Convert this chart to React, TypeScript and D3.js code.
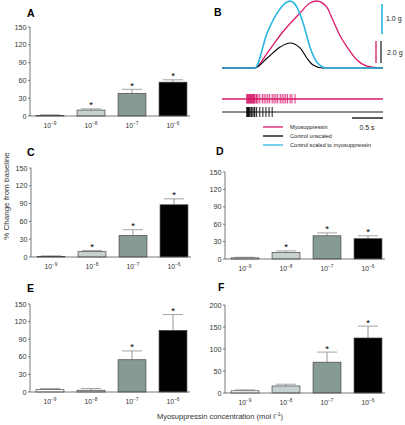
import React from "react";
import * as d3 from "d3";

// ---------- Data ----------
const exponents = ["−9", "−8", "−7", "−6"];
const barColors = ["#ffffff", "#c6d1d1", "#869a96", "#000000"];

const meanA = [1, 10, 38, 57];
const topA = [2, 12, 45, 61];
const sigA = [false, true, true, true];

const meanC = [1, 9, 36, 88];
const topC = [2, 11, 46, 98];
const sigC = [false, true, true, true];

const meanD = [2, 11, 40, 35];
const topD = [3, 14, 45, 40];
const sigD = [false, true, true, true];

const meanE = [4, 3, 55, 105];
const topE = [6, 6, 70, 132];
const sigE = [false, false, true, true];

const meanF = [5, 16, 70, 125];
const topF = [7, 20, 93, 152];
const sigF = [false, false, true, true];

const ticks150 = [0, 30, 60, 90, 120, 150];
const ticks200 = [0, 50, 100, 150, 200];

// Panel B: force traces (time in s, force in g)
const pinkT = [0, 0.53, 0.73, 0.98, 1.26, 1.42, 1.53, 1.69, 1.79, 1.9, 2.02, 2.18, 2.34, 2.6];
const pinkG = [0, 0, 1.36, 3.27, 5.0, 5.91, 6.09, 5.55, 4.36, 3.0, 1.91, 0.73, 0.18, 0];
const blackT = [0, 0.53, 0.73, 0.94, 1.1, 1.26, 1.37, 1.47, 1.63, 2.6];
const blackG = [0, 0, 0.91, 1.91, 2.27, 1.82, 0.91, 0.27, 0, 0];
const cyanT = [0, 0.53, 0.73, 0.89, 1.05, 1.1, 1.21, 1.31, 1.42, 1.53, 1.69, 2.6];
const cyanG = [0, 0, 1.17, 1.83, 2.2, 2.23, 2.03, 1.5, 0.7, 0.2, 0, 0];

// spike times (s)
const pinkSpikes = [0.4, 0.41, 0.42, 0.43, 0.44, 0.45, 0.46, 0.47, 0.48, 0.49, 0.5, 0.51, 0.52, 0.53, 0.55, 0.56, 0.58, 0.61, 0.65, 0.68, 0.71, 0.74, 0.77, 0.81, 0.84, 0.87, 0.9, 0.94, 0.97, 1.0, 1.03, 1.06, 1.1, 1.13, 1.18];
const blackSpikes = [0.4, 0.41, 0.42, 0.43, 0.44, 0.45, 0.47, 0.48, 0.5, 0.52, 0.53, 0.56, 0.61, 0.66, 0.71, 0.76, 0.81];

const legendLabels = ["Myosuppressin", "Control unscaled", "Control scaled to myosuppressin"];
const PINK = "#d71a6c";
const CYAN = "#2bb6e4";
const legendColors = [PINK, "#000000", CYAN];

const FONT = "Liberation Sans, Arial, Helvetica, sans-serif";

type PanelSpec = {
  id: string;
  axisX: number;
  y0: number;
  yTop: number;
  max: number;
  ticks: number[];
  mean: number[];
  top: number[];
  sig: boolean[];
  lx: number;
  ly: number;
};

const panels: PanelSpec[] = [
  { id: "A", axisX: 30, y0: 116, yTop: 27, max: 150, ticks: ticks150, mean: meanA, top: topA, sig: sigA, lx: 27, ly: 17 },
  { id: "C", axisX: 31, y0: 257, yTop: 168, max: 150, ticks: ticks150, mean: meanC, top: topC, sig: sigC, lx: 27, ly: 156 },
  { id: "D", axisX: 225, y0: 259, yTop: 172, max: 150, ticks: ticks150, mean: meanD, top: topD, sig: sigD, lx: 216, ly: 155 },
  { id: "E", axisX: 30, y0: 392, yTop: 304, max: 150, ticks: ticks150, mean: meanE, top: topE, sig: sigE, lx: 27, ly: 292 },
  { id: "F", axisX: 225, y0: 393, yTop: 305, max: 200, ticks: ticks200, mean: meanF, top: topF, sig: sigF, lx: 218, ly: 291 },
];

function BarPanel({ p }: { p: PanelSpec }) {
  const y = d3.scaleLinear().domain([0, p.max]).range([p.y0, p.yTop]);
  const x = d3
    .scaleBand<string>()
    .domain(exponents)
    .range([p.axisX - 0.5, p.axisX + 163.5])
    .paddingInner(0.32)
    .paddingOuter(0.16);
  const bw = x.bandwidth();
  return (
    <g>
      <text x={p.lx} y={p.ly} fontFamily={FONT} fontWeight="bold" fontSize={10.5} fill="#000">
        {p.id}
      </text>
      <line x1={p.axisX} x2={p.axisX} y1={y(p.max)} y2={p.y0} stroke="#555" strokeWidth={0.8} />
      {p.ticks.map((t) => (
        <g key={t}>
          <line x1={p.axisX - 2} x2={p.axisX} y1={y(t)} y2={y(t)} stroke="#555" strokeWidth={0.8} />
          <text
            x={p.axisX - 3.5}
            y={y(t) + 2.6}
            textAnchor="end"
            fontFamily={FONT}
            fontSize={7.2}
            fill="#333"
          >
            {t}
          </text>
        </g>
      ))}
      {exponents.map((e, i) => {
        const bx = x(e)!;
        const cx = bx + bw / 2;
        const yt = y(p.top[i]);
        const cap = bw * 0.36;
        return (
          <g key={e}>
            <line x1={cx} x2={cx} y1={y(p.mean[i])} y2={yt} stroke="#8a8a8a" strokeWidth={0.9} />
            <line x1={cx - cap} x2={cx + cap} y1={yt} y2={yt} stroke="#9a9a9a" strokeWidth={0.9} />
            <rect
              x={bx}
              y={y(p.mean[i])}
              width={bw}
              height={p.y0 - y(p.mean[i])}
              fill={barColors[i]}
              stroke="#444"
              strokeWidth={0.7}
            />
            {p.sig[i] && (
              <text x={cx} y={yt - 0.5} textAnchor="middle" fontFamily={FONT} fontSize={9.5} fill="#000">
                *
              </text>
            )}
            <text x={cx} y={p.y0 + 11.5} textAnchor="middle" fontFamily={FONT} fontSize={6.8} fill="#333">
              10
              <tspan fontSize={4.8} dy={-2.8}>
                {e}
              </tspan>
            </text>
          </g>
        );
      })}
      <line x1={p.axisX} x2={p.axisX + 160} y1={p.y0} y2={p.y0} stroke="#555" strokeWidth={0.8} />
    </g>
  );
}

function PanelB() {
  const tx = d3.scaleLinear().domain([0, 2.6]).range([222, 383]);
  const yF = d3.scaleLinear().domain([0, 2]).range([68, 46]);
  const yC = d3.scaleLinear().domain([0, 1]).range([68, 38]);
  const line = (T: number[], G: number[], ys: d3.ScaleLinear<number, number>) =>
    d3
      .line<number>()
      .x((_, i) => tx(T[i]))
      .y((g) => ys(g))
      .curve(d3.curveMonotoneX)(G) || "";
  const pinkY = 99;
  const blackY = 112;
  return (
    <g>
      <text x={214} y={16} fontFamily={FONT} fontWeight="bold" fontSize={10.5} fill="#000">
        B
      </text>
      <path d={line(pinkT, pinkG, yF)} fill="none" stroke={PINK} strokeWidth={1.3} />
      <path d={line(blackT, blackG, yF)} fill="none" stroke="#000" strokeWidth={1.1} />
      <path d={line(cyanT, cyanG, yC)} fill="none" stroke={CYAN} strokeWidth={1.6} />
      <line x1={382} x2={382} y1={4} y2={4 + (yC(0) - yC(1))} stroke={CYAN} strokeWidth={1.6} />
      <text x={386} y={20.5} fontFamily={FONT} fontSize={7} fill="#222">1.0 g</text>
      <line x1={376} x2={376} y1={41} y2={41 + (yF(0) - yF(2))} stroke={PINK} strokeWidth={1.3} />
      <line x1={381} x2={381} y1={41} y2={41 + (yF(0) - yF(2))} stroke="#000" strokeWidth={1.1} />
      <text x={387} y={54.5} fontFamily={FONT} fontSize={7} fill="#222">2.0 g</text>
      <line x1={tx(0)} x2={tx(2.6)} y1={pinkY} y2={pinkY} stroke={PINK} strokeWidth={1.3} />
      {pinkSpikes.map((s, i) => (
        <line key={"p" + i} x1={tx(s)} x2={tx(s)} y1={pinkY - 5} y2={pinkY + 4.5} stroke={PINK} strokeWidth={0.9} />
      ))}
      <line x1={tx(0)} x2={tx(2.6)} y1={blackY} y2={blackY} stroke="#000" strokeWidth={0.9} />
      {blackSpikes.map((s, i) => (
        <line key={"b" + i} x1={tx(s)} x2={tx(s)} y1={blackY - 5} y2={blackY + 5} stroke="#000" strokeWidth={0.9} />
      ))}
      <line x1={tx(2.6) - (tx(0.5) - tx(0))} x2={tx(2.6)} y1={118} y2={118} stroke="#000" strokeWidth={1.3} />
      <text x={367} y={129.5} textAnchor="middle" fontFamily={FONT} fontSize={7} fill="#222">0.5 s</text>
      {legendLabels.map((l, i) => (
        <g key={l}>
          <line x1={263} x2={283} y1={127 + i * 9} y2={127 + i * 9} stroke={legendColors[i]} strokeWidth={1.3} />
          <text x={290} y={129 + i * 9} fontFamily={FONT} fontSize={5.6} fill="#222">
            {l}
          </text>
        </g>
      ))}
    </g>
  );
}

export default function App() {
  return (
    <svg
      width={405}
      height={425}
      style={{ position: "absolute", left: 0, top: 0, background: "#fff" }}
    >
      <rect x={0} y={0} width={405} height={425} fill="#fff" />
      {panels.map((p) => (
        <BarPanel key={p.id} p={p} />
      ))}
      <PanelB />
      <text
        transform="translate(9,196) rotate(-90)"
        textAnchor="middle"
        fontFamily={FONT}
        fontSize={8}
        fill="#333"
      >
        % Change from baseline
      </text>
      <text x={220} y={419} textAnchor="middle" fontFamily={FONT} fontSize={7.5} fill="#333">
        Myosuppressin concentration (mol l
        <tspan fontSize={5} dy={-2.8}>−1</tspan>
        <tspan dy={2.8}>)</tspan>
      </text>
    </svg>
  );
}
